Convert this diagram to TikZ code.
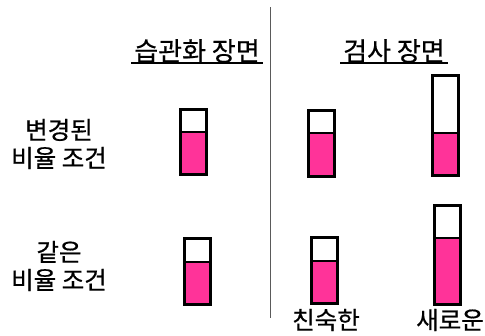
\documentclass[tikz,border=0pt]{standalone}
\usepackage{fontspec}
\newfontfamily\kr[FakeBold=0.6]{Noto Sans CJK KR}
\definecolor{barpink}{RGB}{255,51,153}
\definecolor{divgray}{RGB}{90,90,90}
\newcommand\gaugebar[5]{%
  \fill[barpink] (#1,#4) rectangle (#2,#5);
  \draw[barline] (#1,#3) rectangle (#2,#5);
  \draw[barline] (#1,#4) -- (#2,#4);}
\begin{document}
\begin{tikzpicture}[x=1pt,y=-1pt,
  barline/.style={line width=2.7pt, line join=miter},
  lbl/.style={font=\kr\fontsize{24.5}{28}\selectfont, inner sep=0pt, align=center},
  ttl/.style={font=\kr\fontsize{26}{30}\selectfont, inner xsep=3pt, inner ysep=0pt},
  uline/.style={line width=1.3pt}]
\useasboundingbox (0,0) rectangle (485,335);
\coordinate (vtop) at (270.7,7);
\coordinate (vbot) at (270.7,318);
\draw[divgray, line width=1.2pt] (vtop) -- (vbot);
% titles
\node[ttl] (hab) at (197,51) {습관화 장면};
\node[ttl] (test) at (394,51) {검사 장면};
\draw[uline] ([yshift=-12pt]hab.center -| hab.west) -- ([yshift=-12pt]hab.center -| hab.east);
\draw[uline] ([yshift=-12pt]test.center -| test.west) -- ([yshift=-12pt]test.center -| test.east);
% row labels
\node[lbl] (chg) at (59,144) {변경된\\비율 조건};
\node[lbl] (same) at (59,266) {같은\\비율 조건};
% bars
\gaugebar{180.3}{206.7}{109.3}{132}{174.7}
\gaugebar{308.3}{334.7}{110.3}{133}{176.7}
\gaugebar{432.3}{458.7}{75.3}{133}{175.7}
\gaugebar{184.3}{210.7}{238.3}{262}{304.7}
\gaugebar{311.3}{337.7}{237.3}{261}{303.7}
\gaugebar{434.3}{460.7}{205.3}{238}{304.7}
% column labels
\node[lbl] (fam) at (326,320) {친숙한};
\node[lbl] (nov) at (450,320) {새로운};
\end{tikzpicture}
\end{document}
